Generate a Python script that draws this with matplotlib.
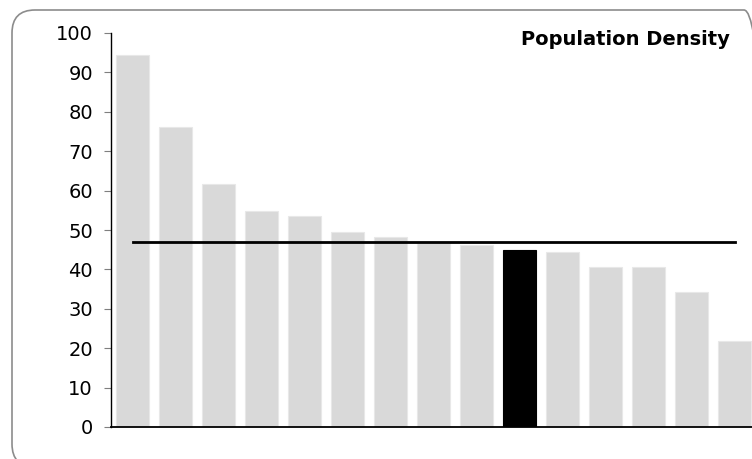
import matplotlib.pyplot as plt
import numpy as np
from matplotlib.patches import FancyBboxPatch
from matplotlib.transforms import IdentityTransform

# values (no category labels shown)
density = [94.4, 76.2, 61.7, 54.7, 53.6, 49.4, 48.1, 46.8, 46.2, 44.9, 44.5, 40.6, 40.5, 34.2, 21.9]
highlight = 9
average = 47.0
yticks = [0, 10, 20, 30, 40, 50, 60, 70, 80, 90, 100]
title = 'Population Density'

fig = plt.figure(figsize=(7.52, 4.59), dpi=100)

# rounded frame (pixels), cut off at right and bottom like the original
frame = FancyBboxPatch((12, -8), 755, 457,
                       boxstyle='round,pad=0,rounding_size=23',
                       transform=IdentityTransform(), fill=False,
                       edgecolor='#8c8c8c', linewidth=1.2)
fig.patches.append(frame)

ax = fig.add_axes([111/752, 32/459, 645/752, 394/459])

x = np.arange(len(density))
colors = ['#d9d9d9'] * len(density)
colors[highlight] = 'black'
edges = ['#e8e8e8'] * len(density)
edges[highlight] = 'black'
ax.bar(x, density, width=0.79, color=colors, edgecolor=edges, linewidth=0.8, zorder=2)
ax.plot([x[0], x[-1]], [average, average], color='black', linewidth=2.0, zorder=3)

ax.set_xlim(-0.5, len(density) - 0.5)
ax.set_ylim(0, 100)
ax.set_yticks(yticks)
ax.set_xticks([])
ax.tick_params(axis='y', labelsize=14, length=5, width=0.8, pad=8, colors='#7f7f7f', labelcolor='black')
for s in ['top', 'right']:
    ax.spines[s].set_visible(False)
ax.spines['left'].set_linewidth(1.0)
ax.spines['bottom'].set_linewidth(1.3)

fig.text(730/752, 1 - 45/459, title, ha='right', va='baseline',
         fontsize=14, fontweight='bold')

plt.savefig('out.png', dpi=100)
